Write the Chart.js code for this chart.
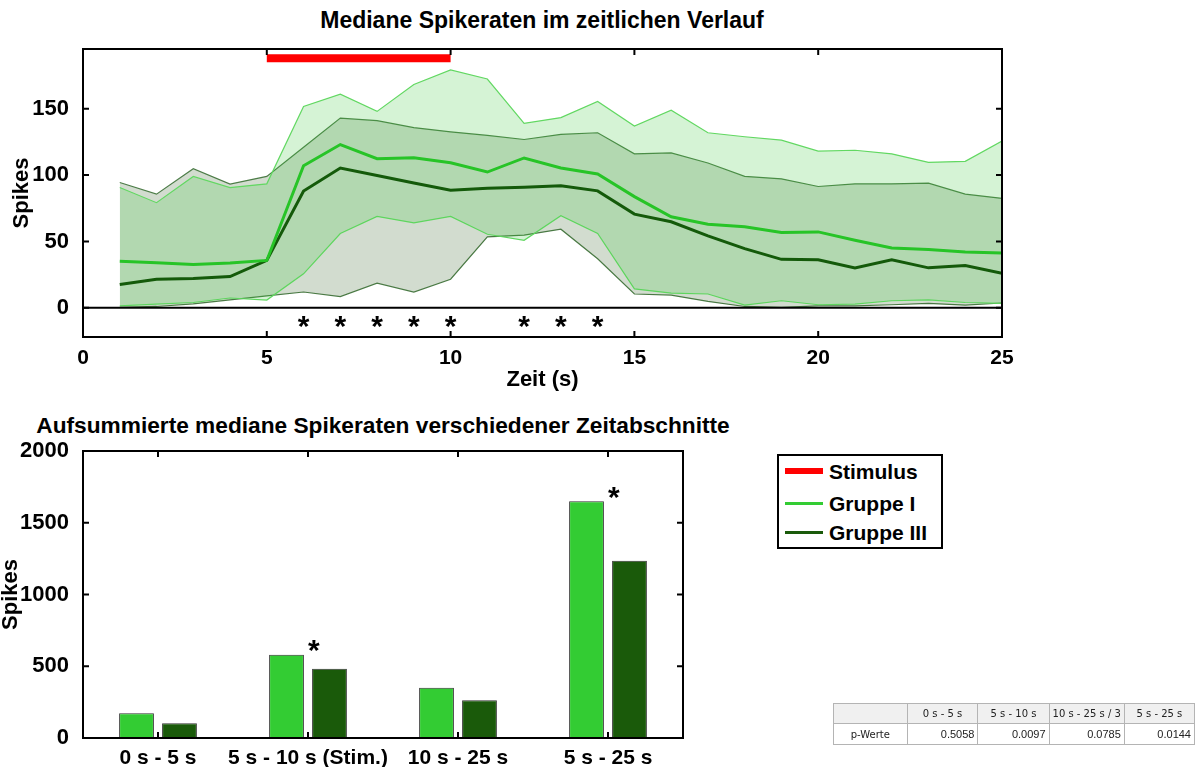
<!DOCTYPE html>
<html>
<head>
<meta charset="utf-8">
<script src="https://cdn.jsdelivr.net/npm/chart.js@4.4.0/dist/chart.umd.min.js"></script>
<style>
  html, body { margin: 0; padding: 0; background: #fff; }
  body { width: 1195px; height: 767px; position: relative; overflow: hidden;
         font-family: 'Liberation Sans', Arial, sans-serif; }
  #topChart { position: absolute; left: 0; top: 0; }
  #barChart { position: absolute; left: 0; top: 400px; }
  .title { position: absolute; font-weight: bold; font-size: 23px; line-height: 26px;
           transform: translateX(-50%); color: #000; white-space: nowrap; }
  #legend { position: absolute; left: 777px; top: 454px; width: 162px; height: 91px;
            border: 2px solid #000; background: #fff; }
  #legend .row { position: absolute; left: 6px; height: 26px; line-height: 26px;
                 font-weight: bold; font-size: 21px; white-space: nowrap; }
  #legend .swatch { display: inline-block; width: 38px; vertical-align: middle;
                    margin-right: 6px; position: relative; top: -2px; }
  #pTable { position: absolute; left: 833px; top: 703px; border-collapse: collapse;
            font-family: 'DejaVu Sans', 'Noto Sans', sans-serif; font-size: 10px; color: #222; }
  #pTable td { border: 1px solid #b4b4b4; padding: 0 3px; white-space: nowrap; }
  #pTable tr.head td { background: #f0f0f0; height: 19px; text-align: center; }
  #pTable tr.vals td { height: 20px; text-align: right;
                       font-family: 'Liberation Sans', Arial, sans-serif; font-size: 11px; }
  #pTable tr.vals td:first-child { text-align: center; font-family: 'DejaVu Sans', sans-serif; font-size: 10px; }
</style>
</head>
<body>
<div class="title" style="left:542px;top:7px;">Mediane Spikeraten im zeitlichen Verlauf</div>
<canvas id="topChart" width="1195" height="395"></canvas>
<div class="title" style="left:383px;top:412px;font-size:22.7px;">Aufsummierte mediane Spikeraten verschiedener Zeitabschnitte</div>
<canvas id="barChart" width="1195" height="367"></canvas>
<div id="legend"></div>
<table id="pTable"></table>
<script>
// ---------- time course (s) ----------
const times = [1, 2, 3, 4, 5, 6, 7, 8, 9, 10, 11, 12, 13, 14, 15, 16, 17, 18, 19, 20, 21, 22, 23, 24, 25];

const grp1Median = [35, 34, 32.7, 33.7, 35.7, 107, 123, 112.3, 113, 109.3, 102.3, 112.9, 105.3, 100.8, 83.8, 68.6, 63, 61, 56.7, 57.2, 50.9, 45, 44, 42, 41.3];
const grp1Upper  = [90.6, 79.2, 99, 90.6, 93.4, 151.7, 161, 148, 168.3, 179.2, 172.4, 139, 143.3, 155.5, 137, 148.9, 131.9, 128.9, 126.3, 118, 118.7, 116, 109.6, 110.4, 125.6];
const grp1Lower  = [1.5, 2.8, 4, 7.4, 5.8, 25.6, 56, 68.8, 64, 68.8, 55.4, 50.9, 69.4, 56, 14.2, 11.1, 10.4, 2, 5.3, 2.3, 2.8, 5.3, 6, 4, 3.3];

const grp3Median = [17.5, 21.5, 22, 23.5, 35.7, 88, 105.3, 99.7, 94, 88.6, 90.1, 90.9, 91.9, 88.1, 70.6, 64.8, 54.2, 44.6, 36.5, 36.2, 30.1, 36.2, 30.1, 31.9, 26];
const grp3Upper  = [94.4, 85.6, 104.8, 93.2, 99, 121, 142.9, 141, 135.7, 132.6, 129.9, 126.8, 130.6, 131.9, 116, 116.7, 109.1, 99, 97.2, 91.4, 93.4, 93.4, 93.9, 85.6, 82.5];
const grp3Lower  = [0.3, 1, 3, 6, 9, 11.9, 8.5, 18.6, 11.9, 21.5, 53.4, 54.7, 59.2, 37, 10.4, 9.6, 4.8, 1, 0.3, 1.5, 1.5, 2.3, 3.3, 2, 3.6];

const stimulusX = [5, 10];
const stimulusLevel = 188;
const baselineX = [0, 25];
const sigTimes = [6, 7, 8, 9, 10, 12, 13, 14];
const sigTimeLevel = -8;
const topYTicks = [0, 50, 100, 150];

// ---------- summed medians per period ----------
const periods = ['0 s - 5 s', '5 s - 10 s (Stim.)', '10 s - 25 s', '5 s - 25 s'];
const grp1Sums = [172, 580, 350, 1650];
const grp3Sums = [102, 483, 263, 1235];
const sigPeriods = [1, 3];
const sigPeriodLevels = [663, 1728];

// ---------- p values ----------
const pHeaders = ['0 s - 5 s', '5 s - 10 s', '10 s - 25 s / 3', '5 s - 25 s'];
const pValues = ['0.5058', '0.0097', '0.0785', '0.0144'];

// ---------- colours ----------
const RED = '#ff0000';
const G1 = '#33cc33', G1_LINE = '#27c427', G1_EDGE = '#62d862', G1_FILL = 'rgba(64,200,64,0.22)';
const G3 = '#1a5a0a', G3_LINE = '#145a0a', G3_EDGE = '#4d7d48', G3_FILL = 'rgba(50,96,37,0.22)';
const FONT = "'Liberation Sans', Arial, sans-serif";

// box around the plot with inward ticks on all four sides
const boxAxes = {
  id: 'boxAxes',
  afterDatasetsDraw(chart) {
    const { ctx, chartArea: a, scales } = chart;
    const len = 6;
    ctx.save();
    ctx.strokeStyle = '#000';
    ctx.lineWidth = 2;
    ctx.beginPath();
    scales.x.ticks.forEach((t, i) => {
      const px = scales.x.getPixelForTick(i);
      ctx.moveTo(px, a.bottom); ctx.lineTo(px, a.bottom - len);
      ctx.moveTo(px, a.top); ctx.lineTo(px, a.top + len);
    });
    scales.y.ticks.forEach((t, i) => {
      const py = scales.y.getPixelForTick(i);
      ctx.moveTo(a.left, py); ctx.lineTo(a.left + len, py);
      ctx.moveTo(a.right, py); ctx.lineTo(a.right - len, py);
    });
    ctx.stroke();
    ctx.strokeRect(a.left, a.top, a.right - a.left, a.bottom - a.top);
    ctx.restore();
  }
};

// significance asterisks
const sigStars = {
  id: 'sigStars',
  afterDatasetsDraw(chart, args, opts) {
    if (!opts.xs) return;
    const { ctx, scales } = chart;
    const size = opts.size || 26;
    ctx.save();
    ctx.fillStyle = '#000';
    ctx.font = 'bold ' + size + 'px ' + FONT;
    ctx.textAlign = opts.align || 'center';
    ctx.textBaseline = 'alphabetic';
    opts.xs.forEach((xv, i) => {
      const px = scales.x.getPixelForValue(xv);
      const py = scales.y.getPixelForValue(opts.ys[i]);
      // '*' sits high in the em box; shift baseline so the glyph centre lands on py
      ctx.fillText('*', px, py + size * 0.575);
    });
    ctx.restore();
  }
};

const pts = (ys) => times.map((t, i) => ({ x: t, y: ys[i] }));
const plain = v => String(v);
const tickFont = { family: FONT, size: 21, weight: 'bold' };
const titleFont = { family: FONT, size: 22, weight: 'bold', lineHeight: 1 };

// ---------- top chart: time course ----------
new Chart(document.getElementById('topChart'), {
  type: 'line',
  data: {
    datasets: [
      { label: 'Stimulus', data: stimulusX.map(x => ({ x, y: stimulusLevel })),
        borderColor: RED, borderWidth: 8, borderCapStyle: 'butt', pointRadius: 0, order: 0 },
      { label: 'Null', data: baselineX.map(x => ({ x, y: 0 })),
        borderColor: '#000', borderWidth: 2, pointRadius: 0, order: 1 },
      { label: 'Gruppe I', data: pts(grp1Median),
        borderColor: G1_LINE, borderWidth: 3, pointRadius: 0, order: 2 },
      { label: 'Gruppe III', data: pts(grp3Median),
        borderColor: G3_LINE, borderWidth: 3, pointRadius: 0, order: 3 },
      { label: 'Gruppe I oben', data: pts(grp1Upper), fill: 5, backgroundColor: G1_FILL,
        borderColor: G1_EDGE, borderWidth: 1.2, pointRadius: 0, order: 4 },
      { label: 'Gruppe I unten', data: pts(grp1Lower),
        borderColor: G1_EDGE, borderWidth: 1.2, pointRadius: 0, order: 5 },
      { label: 'Gruppe III oben', data: pts(grp3Upper), fill: 7, backgroundColor: G3_FILL,
        borderColor: G3_EDGE, borderWidth: 1.2, pointRadius: 0, order: 6 },
      { label: 'Gruppe III unten', data: pts(grp3Lower),
        borderColor: G3_EDGE, borderWidth: 1.2, pointRadius: 0, order: 7 }
    ]
  },
  options: {
    responsive: false,
    animation: false,
    layout: { padding: { left: 0, top: 49, right: 193, bottom: 0 } },
    plugins: {
      legend: { display: false },
      tooltip: { enabled: false },
      sigStars: { xs: sigTimes, ys: sigTimes.map(() => sigTimeLevel), size: 30, align: 'center' }
    },
    scales: {
      x: {
        type: 'linear', min: 0, max: 25,
        ticks: { stepSize: 5, color: '#000', font: tickFont, padding: 1, maxRotation: 0, callback: plain },
        grid: { display: false },
        border: { display: false },
        title: { display: true, text: 'Zeit (s)', color: '#000', font: titleFont, padding: { top: 0, bottom: 4 } },
        afterFit: s => { s.height = 58; }
      },
      y: {
        min: -22, max: 195,
        afterBuildTicks: s => { s.ticks = topYTicks.map(v => ({ value: v })); },
        ticks: { color: '#000', font: { family: FONT, size: 22, weight: 'bold' }, padding: 6, callback: plain },
        grid: { display: false },
        border: { display: false },
        title: { display: true, text: 'Spikes', color: '#000', font: titleFont, padding: { top: 11, bottom: 0 } },
        afterFit: s => { s.width = 83; }
      }
    }
  },
  plugins: [boxAxes, sigStars]
});

// ---------- bottom chart: summed medians ----------
new Chart(document.getElementById('barChart'), {
  type: 'bar',
  data: {
    labels: periods,
    datasets: [
      { label: 'Gruppe I', data: grp1Sums, backgroundColor: G1, borderColor: '#333', borderWidth: 1,
        categoryPercentage: 0.573, barPercentage: 0.81 },
      { label: 'Gruppe III', data: grp3Sums, backgroundColor: G3, borderColor: '#333', borderWidth: 1,
        categoryPercentage: 0.573, barPercentage: 0.81 }
    ]
  },
  options: {
    responsive: false,
    animation: false,
    layout: { padding: { left: 0, top: 51, right: 512, bottom: 0 } },
    plugins: {
      legend: { display: false },
      tooltip: { enabled: false },
      sigStars: { xs: sigPeriods, ys: sigPeriodLevels, size: 30, align: 'left' }
    },
    scales: {
      x: {
        ticks: { color: '#000', font: { family: FONT, size: 21, weight: 'bold' }, padding: 0, maxRotation: 0, autoSkip: false },
        grid: { display: false },
        border: { display: false },
        afterFit: s => { s.height = 29; }
      },
      y: {
        min: 0, max: 2000,
        ticks: { stepSize: 500, color: '#000', font: { family: FONT, size: 22, weight: 'bold' }, padding: 6, callback: plain },
        grid: { display: false },
        border: { display: false },
        title: { display: true, text: 'Spikes', color: '#000', font: titleFont, padding: { top: 0, bottom: 0 } },
        afterFit: s => { s.width = 83; }
      }
    }
  },
  plugins: [boxAxes, sigStars]
});

// ---------- legend ----------
const legendItems = [
  { text: 'Stimulus', color: RED, width: 6, top: 3 },
  { text: 'Gruppe I', color: G1, width: 3, top: 35 },
  { text: 'Gruppe III', color: G3, width: 3, top: 64 }
];
const legendEl = document.getElementById('legend');
legendItems.forEach(it => {
  const row = document.createElement('div');
  row.className = 'row';
  row.style.top = it.top + 'px';
  const sw = document.createElement('span');
  sw.className = 'swatch';
  sw.style.height = it.width + 'px';
  sw.style.background = it.color;
  row.appendChild(sw);
  row.appendChild(document.createTextNode(it.text));
  legendEl.appendChild(row);
});

// ---------- p value table ----------
const widths = [75, 72, 72, 71, 71];
const table = document.getElementById('pTable');
const head = table.insertRow();
head.className = 'head';
['', ...pHeaders].forEach((h, i) => {
  const c = head.insertCell();
  c.textContent = h;
  c.style.width = (widths[i] - 7) + 'px';
});
const vals = table.insertRow();
vals.className = 'vals';
['p-Werte', ...pValues].forEach(v => { vals.insertCell().textContent = v; });
</script>
</body>
</html>
